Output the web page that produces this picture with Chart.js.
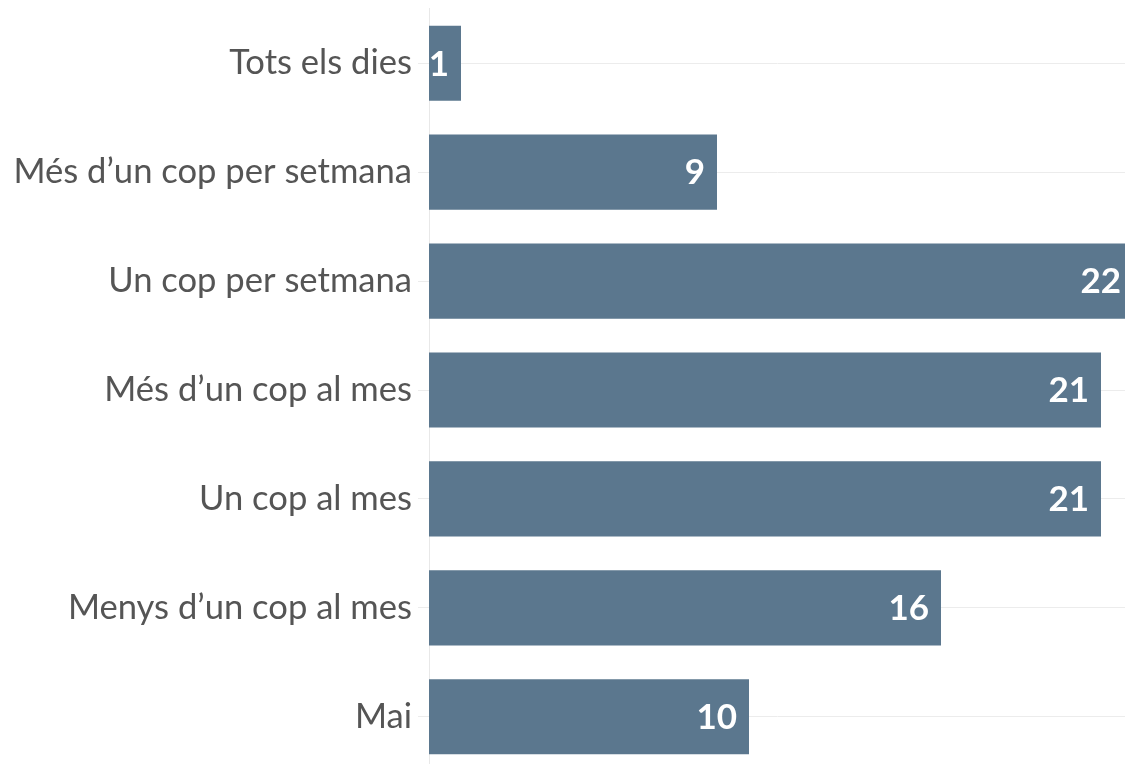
<!DOCTYPE html>
<html>
<head>
<meta charset="utf-8">
<script src="https://cdn.jsdelivr.net/npm/chart.js@4"></script>
<style>
html,body{margin:0;padding:0;overflow:hidden;background:#fff;height:764px;}
canvas{display:block;margin-top:-18px;}
</style>
</head>
<body>
<canvas id="c" width="1125" height="816"></canvas>
<script>
const categories = ["Tots els dies","Més d’un cop per setmana","Un cop per setmana","Més d’un cop al mes","Un cop al mes","Menys d’un cop al mes","Mai"];
const values = [1, 9, 22, 21, 21, 16, 10];

const labelPlugin = {
  id: 'barLabels',
  afterDatasetsDraw(chart) {
    const ctx = chart.ctx;
    const meta = chart.getDatasetMeta(0);
    ctx.save();
    ctx.fillStyle = '#ffffff';
    ctx.font = 'bold 35px Lato, "Open Sans", sans-serif';
    ctx.textAlign = 'right';
    ctx.textBaseline = 'middle';
    meta.data.forEach((bar, i) => {
      ctx.fillText(String(values[i]), bar.x - 12, bar.y + 1);
    });
    ctx.restore();
  }
};

new Chart(document.getElementById('c'), {
  type: 'bar',
  data: {
    labels: categories,
    datasets: [{
      data: values,
      backgroundColor: '#5b778e',
      categoryPercentage: 1,
      barPercentage: 0.69
    }]
  },
  options: {
    indexAxis: 'y',
    responsive: false,
    animation: false,
    layout: { padding: { top: 6, left: 0, right: 0, bottom: 0 } },
    plugins: { legend: { display: false }, tooltip: { enabled: false } },
    scales: {
      x: { display: false, min: 0, max: 21.75 },
      y: {
        afterFit(scale) { scale.width = 429; },
        grid: { offset: false, color: '#ececec', tickLength: 11, drawTicks: true },
        border: { display: true, color: '#e8e8e8' },
        ticks: { color: '#555555', padding: 6, font: { family: 'Lato, "Open Sans", sans-serif', size: 34.6 } }
      }
    }
  },
  plugins: [labelPlugin]
});
</script>
</body>
</html>
